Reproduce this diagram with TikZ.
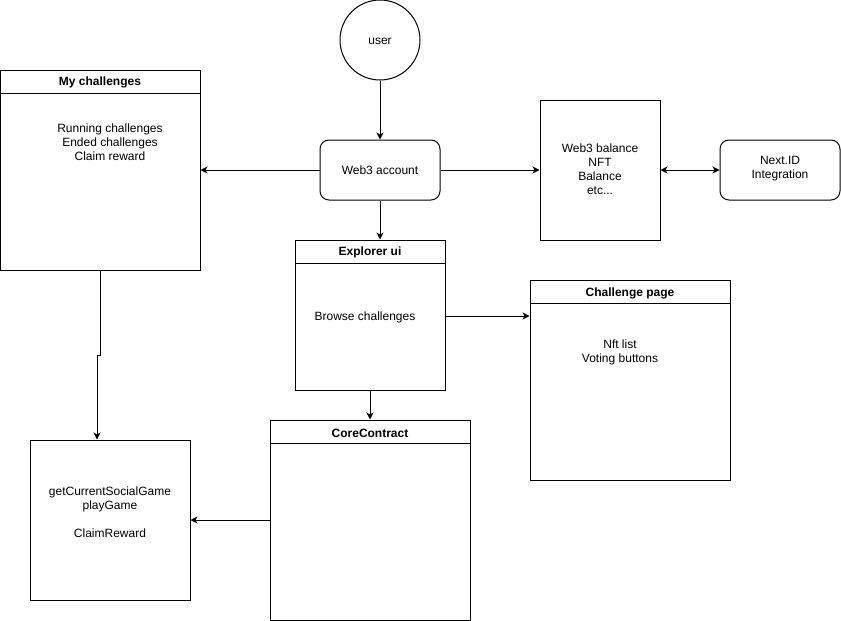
\documentclass[tikz,border=0pt]{standalone}
\usepackage{fontspec}
\setmainfont{Liberation Sans}
\usetikzlibrary{arrows.meta}
\begin{document}
\begin{tikzpicture}[x=1pt,y=-1pt,
  every node/.style={font=\fontsize{12}{14}\selectfont},
  box/.style={draw,line width=1pt,rectangle,inner sep=0pt},
  rbox/.style={draw,line width=1pt,rectangle,rounded corners=9pt,inner sep=0pt},
  ttl/.style={font=\fontsize{12}{14}\selectfont\bfseries,inner sep=0pt},
  txt/.style={align=center,inner sep=0pt},
  conn/.style={line width=1pt,-{Stealth[length=7pt,width=7pt,inset=2pt]}},
  dconn/.style={line width=1pt,{Stealth[length=7pt,width=7pt,inset=2pt]}-{Stealth[length=7pt,width=7pt,inset=2pt]}}
]
\useasboundingbox (0,0) rectangle (841,621);
% user
\node[draw,line width=1pt,circle,minimum size=80pt,inner sep=0pt] (user) at (380,40) {};
\node[inner sep=0pt] (usert) at (380,41) {user};
% web3 account
\node[rbox,minimum width=120pt,minimum height=60pt] (w3) at (380,170) {};
\node[inner sep=0pt] (w3t) at (380,170) {Web3 account};
% my challenges
\node[box,minimum width=200pt,minimum height=200pt] (mc) at (100,170) {};
\draw[line width=1pt] (0,93) -- (200,93);
\node[ttl] (mct) at (100,82) {My challenges};
\node[txt] (mctx) at (110,142) {Running challenges\\Ended challenges\\Claim reward};
% web3 balance
\node[box,minimum width=120pt,minimum height=140pt] (wb) at (600,170) {};
\node[txt] (wbt) at (600,169) {Web3 balance\\NFT\\Balance\\etc...};
% next id
\node[rbox,minimum width=120pt,minimum height=60pt] (nid) at (780,170) {};
\node[txt] (nidt) at (780,169) {Next.ID\\Integration};
% explorer ui
\node[box,minimum width=150pt,minimum height=150pt] (ex) at (370,315) {};
\draw[line width=1pt] (295,263) -- (445,263);
\node[ttl] (ext) at (370,252) {Explorer ui};
\node[txt] (exb) at (365,317) {Browse challenges};
% challenge page
\node[box,minimum width=200pt,minimum height=200pt] (cp) at (630,380) {};
\draw[line width=1pt] (530,303) -- (730,303);
\node[ttl] (cpt) at (630,293) {Challenge page};
\node[txt] (cptx) at (620,352) {Nft list\\Voting buttons};
% core contract
\node[box,minimum width=200pt,minimum height=200pt] (cc) at (370,520) {};
\draw[line width=1pt] (270,443) -- (470,443);
\node[ttl] (cct) at (370,433) {CoreContract};
% functions box
\node[box,minimum width=160pt,minimum height=160pt] (fb) at (110,520) {};
\node[txt] (fbt) at (110,512) {getCurrentSocialGame\\playGame\\[14pt]ClaimReward};
% connectors
\draw[conn] (user.south) -- (w3.north);
\draw[conn] (w3.west) -- (mc.east |- w3.west);
\draw[conn] (w3.east) -- (wb.west |- w3.east);
\draw[dconn] (wb.east |- nid.west) -- (nid.west);
\draw[conn] (w3.south) -- (w3.south |- ex.north);
\draw[conn] (ex.east |- 0,316) -- (cp.west |- 0,316);
\draw[conn] (ex.south) -- (cc.north);
\draw[conn] (cc.west) -- (fb.east |- cc.west);
\coordinate (j1) at (100,355);
\coordinate (j2) at (97,355);
\draw[conn] (mc.south -| j1) -- (j1) -- (j2) -- (j2 |- fb.north);
\end{tikzpicture}
\end{document}
